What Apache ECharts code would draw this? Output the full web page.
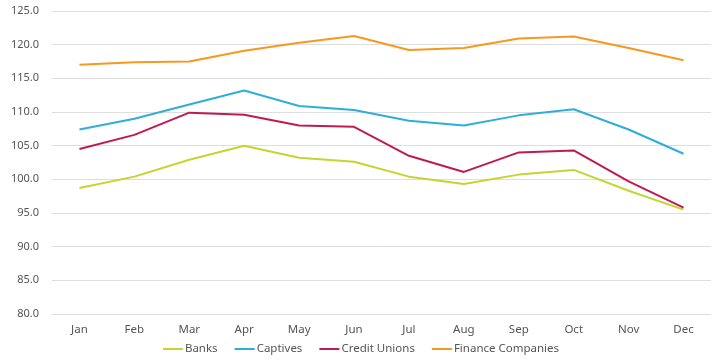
<!DOCTYPE html>
<html><head><meta charset="utf-8">
<script src="https://cdn.jsdelivr.net/npm/echarts@6/dist/echarts.min.js"></script>
<style>html,body{margin:0;padding:0;background:#fff}#c{width:722px;height:364px}</style>
</head><body><div id="c"></div>
<script>
const categories = ['Jan','Feb','Mar','Apr','May','Jun','Jul','Aug','Sep','Oct','Nov','Dec'];
const banks = [98.7,100.4,102.9,105.0,103.2,102.6,100.4,99.3,100.7,101.4,98.3,95.5];
const captives = [107.4,109.0,111.1,113.2,110.9,110.3,108.7,108.0,109.5,110.4,107.4,103.8];
const creditUnions = [104.5,106.6,109.9,109.6,108.0,107.8,103.5,101.1,104.0,104.3,99.7,95.8];
const financeCompanies = [117.0,117.4,117.5,119.1,120.3,121.3,119.2,119.5,120.9,121.2,119.5,117.7];
const yTicks = {min:80, max:125, interval:5};

const chart = echarts.init(document.getElementById('c'), null, {renderer:'canvas'});
const font = '"Noto Sans", Lato, sans-serif';
function s(name, data, color){
  return {name, type:'line', data, symbol:'none', smooth:false,
    lineStyle:{width:2, color}, itemStyle:{color}};
}
chart.setOption({
  animation:false,
  textStyle:{fontFamily:font},
  grid:{left:52, right:11, top:11, bottom:50, containLabel:false},
  legend:{bottom:4, left:'center', itemWidth:20, itemHeight:2, itemGap:17,
    icon:'rect',
    textStyle:{color:'#555', fontSize:11.5, fontFamily:font, padding:[0,0,0,-3]},
    data:['Banks','Captives','Credit Unions','Finance Companies']},
  xAxis:{type:'category', data:categories, boundaryGap:true,
    axisLine:{show:false}, axisTick:{show:false},
    axisLabel:{color:'#555', fontSize:11.5, margin:10, fontFamily:font}},
  yAxis:{type:'value', min:yTicks.min, max:yTicks.max, interval:yTicks.interval,
    axisLine:{show:false}, axisTick:{show:false},
    axisLabel:{color:'#555', fontSize:11, margin:13, fontFamily:font, formatter:v=>v.toFixed(1)},
    splitLine:{lineStyle:{color:'#dedede', width:1}}},
  series:[
    s('Banks', banks, '#c3d62f'),
    s('Captives', captives, '#2eaed8'),
    s('Credit Unions', creditUnions, '#bf1b50'),
    s('Finance Companies', financeCompanies, '#f7981f')
  ]
});
</script></body></html>
